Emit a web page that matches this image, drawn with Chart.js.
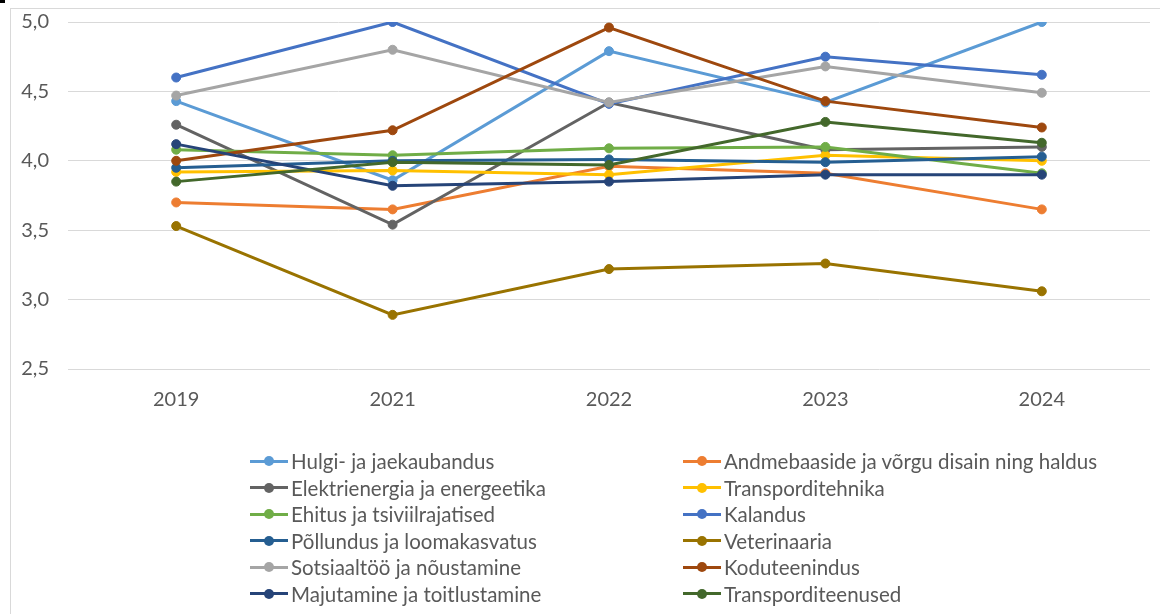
<!DOCTYPE html>
<html>
<head>
<meta charset="utf-8">
<script src="https://cdn.jsdelivr.net/npm/chart.js@4"></script>
<style>
  html, body { margin: 0; padding: 0; background: #ffffff; }
  body { width: 1160px; height: 614px; position: relative; overflow: hidden; font-family: Lato, "Noto Sans", sans-serif; }
  .frame { position: absolute; left: 10px; top: 8px; width: 1200px; height: 700px; border-left: 1px solid #d9d9d9; border-top: 1px solid #d9d9d9; }
  .corner { position: absolute; left: 0; top: 0; width: 5px; height: 3px; background: #000; }
  #lineChart { position: absolute; left: 0; top: 0; }
  .legend { position: absolute; left: 0; top: 0; width: 1160px; height: 614px; }
  .item { position: absolute; height: 20px; display: flex; align-items: center; color: #595959; font-size: 20.5px; white-space: nowrap; }
  .swatch { position: relative; width: 38px; height: 3px; margin-right: 3px; flex: none; }
  .swatch span { position: absolute; left: 14px; top: -3.5px; width: 10px; height: 10px; border-radius: 50%; }
</style>
</head>
<body>
<div class="frame"></div>
<div class="corner"></div>
<canvas id="lineChart" width="1160" height="420"></canvas>
<div class="legend" id="legend"></div>
<script>
const years = ['2019', '2021', '2022', '2023', '2024'];
const yTicks = [2.5, 3.0, 3.5, 4.0, 4.5, 5.0];

const hulgi = [4.43, 3.86, 4.79, 4.42, 5.00];
const andmebaasid = [3.70, 3.65, 3.96, 3.91, 3.65];
const elektrienergia = [4.26, 3.54, 4.42, 4.08, 4.10];
const transporditehnika = [3.92, 3.93, 3.90, 4.04, 4.00];
const ehitus = [4.08, 4.04, 4.09, 4.10, 3.91];
const kalandus = [4.60, 5.00, 4.41, 4.75, 4.62];
const pollundus = [3.95, 4.00, 4.01, 3.99, 4.03];
const veterinaaria = [3.53, 2.89, 3.22, 3.26, 3.06];
const sotsiaaltoo = [4.47, 4.80, 4.42, 4.68, 4.49];
const koduteenindus = [4.00, 4.22, 4.96, 4.43, 4.24];
const majutamine = [4.12, 3.82, 3.85, 3.90, 3.90];
const transporditeenused = [3.85, 3.99, 3.97, 4.28, 4.13];

const seriesNames = [
  'Hulgi- ja jaekaubandus',
  'Andmebaaside ja võrgu disain ning haldus',
  'Elektrienergia ja energeetika',
  'Transporditehnika',
  'Ehitus ja tsiviilrajatised',
  'Kalandus',
  'Põllundus ja loomakasvatus',
  'Veterinaaria',
  'Sotsiaaltöö ja nõustamine',
  'Koduteenindus',
  'Majutamine ja toitlustamine',
  'Transporditeenused'
];
const seriesValues = [hulgi, andmebaasid, elektrienergia, transporditehnika, ehitus, kalandus,
  pollundus, veterinaaria, sotsiaaltoo, koduteenindus, majutamine, transporditeenused];

const colors = ['#5B9BD5', '#ED7D31', '#636363', '#FFC000', '#70AD47', '#4472C4',
  '#255E91', '#997300', '#A5A5A5', '#9E480E', '#264478', '#43682B'];

const fontFamily = 'Lato, "Noto Sans", sans-serif';
const textColor = '#595959';

const datasets = seriesNames.map((name, i) => ({
  label: name,
  data: seriesValues[i],
  borderColor: colors[i],
  backgroundColor: colors[i],
  borderWidth: 3,
  pointRadius: 4.5,
  pointBorderWidth: 1,
  pointHoverRadius: 4.5,
  tension: 0,
  order: seriesNames.length - i
}));

new Chart(document.getElementById('lineChart'), {
  type: 'line',
  data: { labels: years, datasets: datasets },
  options: {
    responsive: false,
    animation: false,
    devicePixelRatio: 1,
    layout: { padding: { top: 22, right: 10, left: 0, bottom: 0 } },
    plugins: {
      legend: { display: false },
      tooltip: { enabled: false }
    },
    scales: {
      x: {
        offset: true,
        grid: { display: false, drawTicks: false },
        border: { display: false },
        ticks: { color: textColor, font: { family: fontFamily, size: 20 }, padding: 19, maxRotation: 0 },
        afterFit: (scale) => {
          scale.height = 51;
          scale.paddingLeft = 0;
          scale.paddingRight = 0;
        }
      },
      y: {
        min: yTicks[0],
        max: yTicks[yTicks.length - 1],
        afterBuildTicks: (scale) => { scale.ticks = yTicks.map(v => ({ value: v })); },
        grid: { color: '#d9d9d9', lineWidth: 1, drawTicks: false },
        border: { display: false },
        ticks: {
          color: textColor,
          font: { family: fontFamily, size: 20 },
          padding: 19,
          callback: (v) => Number(v).toFixed(1).replace('.', ',')
        },
        afterFit: (scale) => {
          scale.width = 68;
          scale.paddingTop = 0;
          scale.paddingBottom = 0;
        }
      }
    }
  }
});

// legend in two columns, row-major like the original
const legend = document.getElementById('legend');
const colX = [250, 683];
const rowY = [461, 487.5, 514, 540.5, 567, 593.5];
seriesNames.forEach((name, i) => {
  const item = document.createElement('div');
  item.className = 'item';
  item.style.left = colX[i % 2] + 'px';
  item.style.top = (rowY[Math.floor(i / 2)] - 10) + 'px';
  item.innerHTML = '<div class="swatch" style="background:' + colors[i] + '"><span style="background:' + colors[i] + '"></span></div>' + name;
  legend.appendChild(item);
});
</script>
</body>
</html>
